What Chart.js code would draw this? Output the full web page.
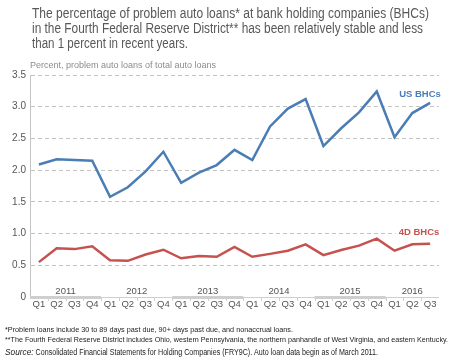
<!DOCTYPE html>
<html>
<head>
<meta charset="utf-8">
<script src="https://cdn.jsdelivr.net/npm/chart.js@4.4.0/dist/chart.umd.min.js"></script>
<style>
  html, body { margin: 0; padding: 0; background: #fff; }
  #wrap { position: relative; width: 457px; height: 360px; }
</style>
</head>
<body>
<div id="wrap"><canvas id="chart" width="457" height="360"></canvas></div>
<script>
// Data
var quarters = ['Q1','Q2','Q3','Q4','Q1','Q2','Q3','Q4','Q1','Q2','Q3','Q4',
                'Q1','Q2','Q3','Q4','Q1','Q2','Q3','Q4','Q1','Q2','Q3'];
var years = ['2011', '2012', '2013', '2014', '2015', '2016'];
var usBHCs = [2.09, 2.17, 2.16, 2.15, 1.58, 1.73, 1.98, 2.29, 1.80, 1.96, 2.08, 2.32,
              2.16, 2.69, 2.97, 3.12, 2.38, 2.66, 2.91, 3.24, 2.52, 2.90, 3.06];
var fourthBHCs = [0.55, 0.77, 0.755, 0.80, 0.58, 0.57, 0.67, 0.745, 0.61, 0.645, 0.635, 0.79,
                  0.635, 0.68, 0.73, 0.83, 0.66, 0.74, 0.81, 0.92, 0.73, 0.83, 0.84];
var yTicks = [0, 0.5, 1.0, 1.5, 2.0, 2.5, 3.0, 3.5];

var titleLines = [
  'The percentage of problem auto loans* at bank holding companies (BHCs)',
  'in the Fourth Federal Reserve District** has been relatively stable and less',
  'than 1 percent in recent years.'
];
var titleWidths = [397, 391, 156];
var axisTitle = 'Percent, problem auto loans of total auto loans';
var notes = [
  '*Problem loans include 30 to 89 days past due, 90+ days past due, and nonaccrual loans.',
  '**The Fourth Federal Reserve District includes Ohio, western Pennsylvania, the northern panhandle of West Virginia, and eastern Kentucky.'
];
var sourceText = ' Consolidated Financial Statements for Holding Companies (FRY9C). Auto loan data begin as of March 2011.';

var blue = '#4a7db6';
var red = '#c5524f';
var FONT = '"Liberation Sans", Arial, Helvetica, sans-serif';

// Extra text, year bands and series labels
var decorPlugin = {
  id: 'decor',
  afterDraw: function(chart) {
    var ctx = chart.ctx;
    var x = chart.scales.x;
    var area = chart.chartArea;
    var step = x.getPixelForValue(1) - x.getPixelForValue(0);
    ctx.save();

    // title
    ctx.fillStyle = '#585858';
    ctx.font = '14px ' + FONT;
    ctx.textBaseline = 'alphabetic';
    ctx.textAlign = 'left';
    titleLines.forEach(function(t, i) {
      ctx.fillText(t, 32, 17.5 + i * 15.2, titleWidths[i]);
    });

    // axis title
    ctx.textBaseline = 'middle';
    ctx.fillStyle = '#8c8c8c';
    ctx.font = '9px ' + FONT;
    ctx.fillText(axisTitle, 30, 66);

    // x-axis baseline with year bands
    var base = area.bottom;
    for (var i = 0; i < years.length; i++) {
      var first = i * 4;
      var last = Math.min(first + 3, quarters.length - 1);
      var x0 = x.getPixelForValue(first) - step / 2;
      var x1 = x.getPixelForValue(last) + step / 2;
      ctx.fillStyle = '#cfcfcf';
      if (i % 2 === 0) {
        ctx.fillRect(x0, base - 1, x1 - x0, 3);
      } else {
        ctx.fillRect(x0, base, x1 - x0, 1);
      }
      ctx.fillStyle = '#555';
      ctx.font = '9.5px ' + FONT;
      ctx.textAlign = 'center';
      ctx.fillText(years[i], (x0 + x1) / 2, base - 6);
    }
    // small tick marks between quarters
    ctx.strokeStyle = '#cfcfcf';
    ctx.lineWidth = 1;
    for (var k = 1; k < quarters.length; k++) {
      var px = Math.round(x.getPixelForValue(k) - step / 2) + 0.5;
      ctx.beginPath();
      ctx.moveTo(px, base);
      ctx.lineTo(px, base + 4);
      ctx.stroke();
    }

    // series labels
    ctx.font = 'bold 9.5px ' + FONT;
    ctx.textAlign = 'center';
    ctx.fillStyle = blue;
    ctx.fillText('US BHCs', 420, 94);
    var lw = ctx.measureText('4D BHCs').width;
    ctx.fillStyle = '#fff';
    ctx.fillRect(419 - lw / 2 - 3, 226, lw + 6, 12);
    ctx.fillStyle = red;
    ctx.fillText('4D BHCs', 419, 232);

    // footnotes
    ctx.textAlign = 'left';
    ctx.fillStyle = '#222';
    ctx.font = '8px ' + FONT;
    ctx.fillText(notes[0], 5, 330, 288);
    ctx.fillText(notes[1], 5, 340, 443);
    ctx.font = 'italic 8.3px ' + FONT;
    ctx.fillText('Source:', 5, 353);
    var w = ctx.measureText('Source:').width;
    ctx.font = '8.3px ' + FONT;
    ctx.fillText(sourceText, 5 + w, 353, 373 - w);

    ctx.restore();
  }
};

new Chart(document.getElementById('chart'), {
  type: 'line',
  data: {
    labels: quarters,
    datasets: [
      { label: 'US BHCs', data: usBHCs, borderColor: blue, borderWidth: 2.5,
        pointRadius: 0, tension: 0, fill: false },
      { label: '4D BHCs', data: fourthBHCs, borderColor: red, borderWidth: 2.5,
        pointRadius: 0, tension: 0, fill: false }
    ]
  },
  options: {
    responsive: false,
    animation: false,
    layout: { padding: { top: 75, right: 18, bottom: 0, left: 0 } },
    plugins: {
      legend: { display: false },
      tooltip: { enabled: false }
    },
    scales: {
      x: {
        offset: true,
        grid: { display: false, drawTicks: false },
        border: { display: false },
        ticks: {
          color: '#555', padding: 2, maxRotation: 0, autoSkip: false,
          font: { size: 9.5, family: FONT }
        },
        afterFit: function(scale) { scale.height = 63; }
      },
      y: {
        min: 0,
        max: 3.5,
        afterBuildTicks: function(scale) {
          scale.ticks = yTicks.map(function(v) { return { value: v }; });
        },
        grid: {
          drawTicks: false,
          color: function(c) { return c.tick && c.tick.value === 0 ? 'rgba(0,0,0,0)' : '#c4c4c4'; }
        },
        border: { display: true, color: '#c4c4c4', width: 1, dash: [4, 3] },
        ticks: {
          color: '#555', padding: 4,
          font: { size: 10, family: FONT },
          callback: function(v) { return v === 0 ? '0' : v.toFixed(1); }
        },
        afterFit: function(scale) { scale.width = 30; }
      }
    }
  },
  plugins: [decorPlugin]
});
</script>
</body>
</html>
